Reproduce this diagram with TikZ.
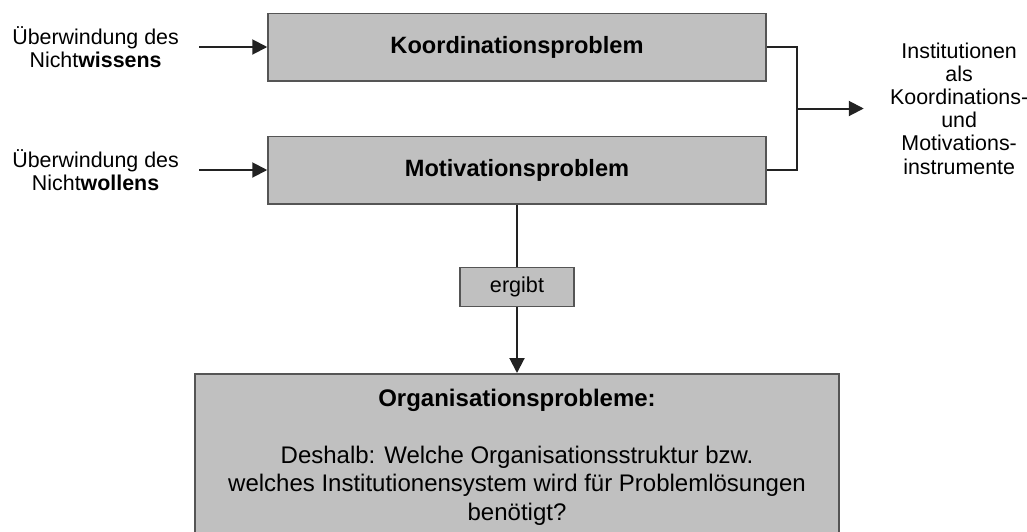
\documentclass[tikz,border=0pt]{standalone}
\usepackage{fontspec}
\setmainfont{Liberation Sans}
\usepackage{tikz}
\usetikzlibrary{shapes,arrows.meta,positioning,calc}

\definecolor{boxgray}{RGB}{192,192,192}
\definecolor{edgegray}{RGB}{85,85,85}
\definecolor{linegray}{RGB}{34,34,34}

\begin{document}
\begin{tikzpicture}[
    node distance=27pt,
    problem/.style={rectangle, draw=edgegray, line width=0.75pt, fill=boxgray, minimum width=249pt, minimum height=33.75pt, align=center, font=\fontsize{11.8}{14}\selectfont\bfseries},
    tag/.style={rectangle, draw=edgegray, line width=0.75pt, fill=boxgray, minimum width=57pt, minimum height=19.5pt, inner sep=0pt, font=\fontsize{10.8}{12}\selectfont},
    note/.style={align=center, inner ysep=0pt, font=\fontsize{10.7}{11.8}\selectfont},
    link/.style={draw=linegray, line width=1pt},
    arrow/.style={link, -{Triangle[length=7.5pt,width=7.5pt]}}
]
    \useasboundingbox (0,0) rectangle (513.5pt,-265.5pt);

    \node[problem] (koord) at (258.5pt,-23.5pt) {Koordinationsproblem};
    \node[problem, below=of koord] (motiv) {Motivationsproblem};
    \node[tag, below=31pt of motiv] (ergibt) {ergibt};
    \node[problem, below=33pt of ergibt, minimum width=322pt, inner ysep=7.5pt, font=\fontsize{12}{14.25}\selectfont] (orga)
        {\textbf{Organisationsprobleme:}\\[14.25pt]Deshalb: Welche Organisationsstruktur bzw.\\welches Institutionensystem wird für Problemlösungen\\benötigt?};

    \node[note, left=34pt of koord, inner xsep=10pt] (wissen) {Überwindung des\\Nicht\textbf{wissens}};
    \node[note, left=34pt of motiv, inner xsep=10pt] (wollen) {Überwindung des\\Nicht\textbf{wollens}};

    \coordinate (join) at ($(koord.east)!0.5!(motiv.east)+(15pt,0)$);
    \node[note, right=33.5pt of join, inner xsep=13pt, font=\fontsize{10.7}{11.6}\selectfont] (instr) {Institutionen\\als\\Koordinations-\\und\\Motivations-\\instrumente};

    \draw[arrow] (wissen) -- (koord);
    \draw[arrow] (wollen) -- (motiv);
    \draw[link] (koord.east) -| (join) |- (motiv.east);
    \draw[arrow] (join) -- (instr);
    \draw[link] (motiv) -- (ergibt);
    \draw[arrow] (ergibt) -- (orga);
\end{tikzpicture}
\end{document}
